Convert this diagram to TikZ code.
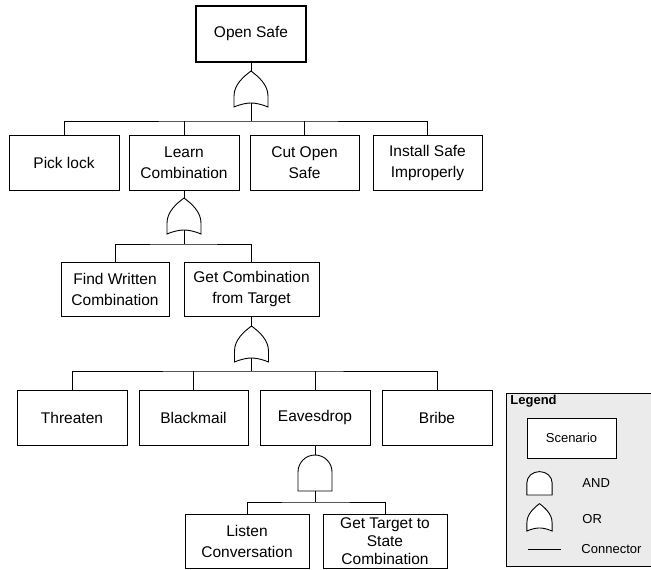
\documentclass[tikz,border=0pt]{standalone}
\usepackage{fontspec}
\setmainfont{Liberation Sans}
\begin{document}
\definecolor{legendfill}{HTML}{EBEBEB}
\begin{tikzpicture}[x=1pt, y=-1pt,
  every path/.style={line width=0.9pt},
  box/.style={draw, line width=0.9pt, inner sep=0pt, align=center,
    font=\fontsize{15.5}{21}\selectfont},
  topbox/.style={box, line width=2.4pt},
  wire/.style={draw, line width=0.9pt},
  legtext/.style={inner sep=0pt, font=\fontsize{13}{15}\selectfont},
  orgate/.pic={
    \draw[line width=0.9pt, fill=white] (-17,0) -- (-17,-11)
      .. controls (-17,-22) and (-8,-30) .. (0,-36)
      .. controls (8,-30) and (17,-22) .. (17,-11) -- (17,0)
      .. controls (10,-3) and (4,-4) .. (0,-4)
      .. controls (-4,-4) and (-10,-3) .. (-17,0) -- cycle;
    \coordinate (-in) at (0,-36);
    \coordinate (-out) at (0,-4);
  },
  andgate/.pic={
    \draw[line width=0.9pt, fill=white] (-17,0) -- (-17,-19)
      arc[start angle=180, end angle=360, radius=17] -- (17,0) -- cycle;
    \coordinate (-in) at (0,-36);
    \coordinate (-out) at (0,0);
  }]
\useasboundingbox (0,0) rectangle (651,570);

% root event
\node[topbox, minimum width=110, minimum height=56] (root) at (251,34) {Open Safe};

% first level
\pic (g1) at (251,107) {orgate};
\coordinate (b1) at (251,121);
\node[box, minimum width=110, minimum height=55] (pick)    at (64,162.5)    {Pick lock};
\node[box, minimum width=110, minimum height=55] (learn)   at (184,162.5)   {Learn\\Combination};
\node[box, minimum width=109, minimum height=55] (cut)     at (304.5,162.5) {Cut Open\\Safe};
\node[box, minimum width=109, minimum height=55] (install) at (427.5,162.5) {Install Safe\\Improperly};
\draw[wire] (root.south) -- (g1-in);
\draw[wire] (g1-out) -- (b1);
\draw[wire] (pick.north) |- (b1) -| (install.north);
\draw[wire] (learn.north) -- (learn.north |- b1);
\draw[wire] (cut.north) -- (cut.north |- b1);

% second level
\pic (g2) at (184,234) {orgate};
\coordinate (b2) at (184,244);
\node[box, minimum width=108, minimum height=54] (find) at (115,289)   {Find Written\\Combination};
\node[box, minimum width=135, minimum height=54] (getc) at (251.5,289) {Get Combination\\from Target};
\draw[wire] (learn.south) -- (g2-in);
\draw[wire] (g2-out) -- (b2);
\draw[wire] (find.north) |- (b2) -| (getc.north);

% third level
\pic (g3) at (251.5,362) {orgate};
\coordinate (b3) at (251.5,371);
\node[box, minimum width=110, minimum height=55] (threaten)  at (72,417.5)  {Threaten};
\node[box, minimum width=109, minimum height=55] (blackmail) at (193.5,417.5) {Blackmail};
\node[box, minimum width=110, minimum height=55] (eaves)     at (315,417.5) {Eavesdrop};
\node[box, minimum width=110, minimum height=55] (bribe)     at (437,417.5) {Bribe};
\draw[wire] (getc.south) -- (g3-in);
\draw[wire] (g3-out) -- (b3);
\draw[wire] (threaten.north) |- (b3) -| (bribe.north);
\draw[wire] (blackmail.north) -- (blackmail.north |- b3);
\draw[wire] (eaves.north) -- (eaves.north |- b3);

% fourth level
\pic (g4) at (315,491) {andgate};
\coordinate (b4) at (315,502);
\node[box, minimum width=124, minimum height=54] (listen) at (247,541) {Listen\\Conversation};
\node[box, minimum width=124, minimum height=54, font=\fontsize{15.5}{18}\selectfont]
  (gett) at (385,541) {Get Target to\\State\\Combination};
\draw[wire] (eaves.south) -- (g4-in);
\draw[wire] (g4-out) -- (b4);
\draw[wire] (listen.north) |- (b4) -| (gett.north);

% legend
\node[draw, fill=legendfill, line width=0.9pt, minimum width=145, minimum height=173,
  inner sep=0pt, anchor=north west] (legend) at (506,393) {};
\node[legtext, font=\bfseries\fontsize{13}{15}\selectfont, anchor=north west]
  (legtitle) at (510,395) {Legend};
\node[box, fill=white, minimum width=89, minimum height=40,
  font=\fontsize{13}{15}\selectfont] (legscen) at (571.5,438) {Scenario};
\pic[xscale=0.74, yscale=0.65] (legand) at (539.5,495) {andgate};
\node[legtext, anchor=west] (legandtxt) at (582,483) {AND};
\pic[xscale=0.74, yscale=0.76] (legor) at (539.5,531) {orgate};
\node[legtext, anchor=west] (legortxt) at (582,519) {OR};
\coordinate (legw1) at (528,549);
\coordinate (legw2) at (561,549);
\draw[wire] (legw1) -- (legw2);
\node[legtext, anchor=west] (legwtxt) at (581,549) {Connector};
\end{tikzpicture}
\end{document}
